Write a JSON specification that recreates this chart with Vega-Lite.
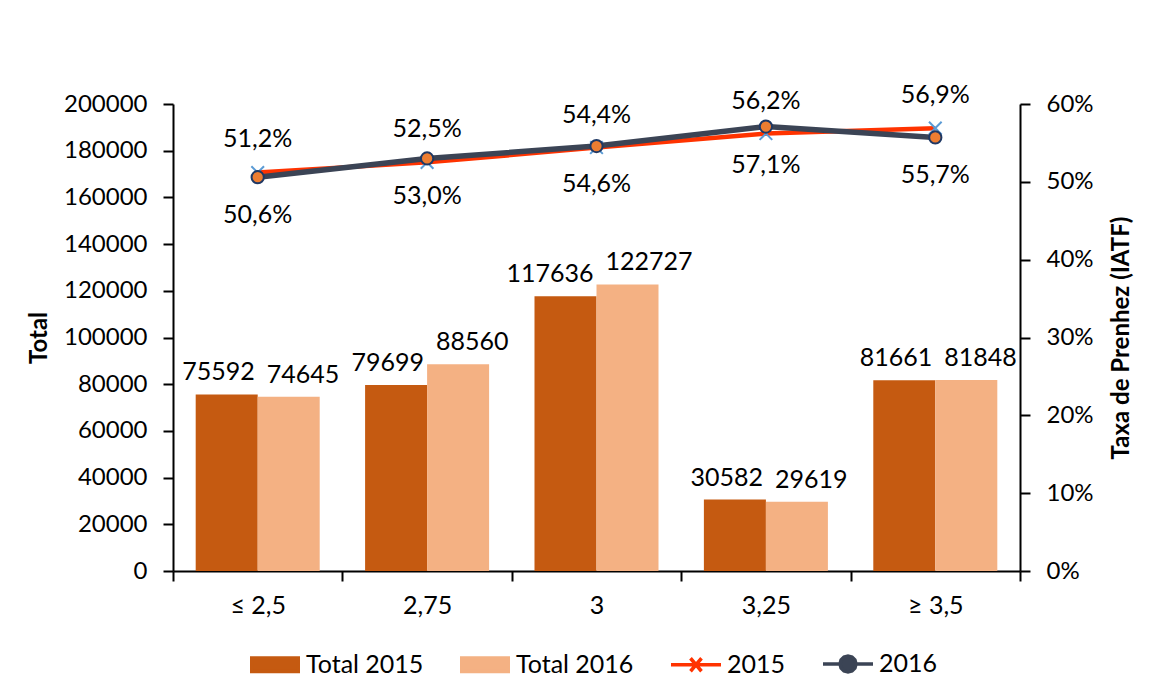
{
  "$schema": "https://vega.github.io/schema/vega-lite/v6.json",
  "width": 847,
  "height": 467,
  "autosize": {"type": "none"},
  "padding": {"left": 173, "top": 104, "right": 129, "bottom": 129},
  "background": "white",
  "datasets": {
    "totais": [
      {"faixa": "≤ 2,5", "serie": "Total 2015", "total": 75592},
      {"faixa": "≤ 2,5", "serie": "Total 2016", "total": 74645},
      {"faixa": "2,75", "serie": "Total 2015", "total": 79699},
      {"faixa": "2,75", "serie": "Total 2016", "total": 88560},
      {"faixa": "3", "serie": "Total 2015", "total": 117636},
      {"faixa": "3", "serie": "Total 2016", "total": 122727},
      {"faixa": "3,25", "serie": "Total 2015", "total": 30582},
      {"faixa": "3,25", "serie": "Total 2016", "total": 29619},
      {"faixa": "≥ 3,5", "serie": "Total 2015", "total": 81661},
      {"faixa": "≥ 3,5", "serie": "Total 2016", "total": 81848}
    ],
    "taxas": [
      {"faixa": "≤ 2,5", "serie": "2015", "taxa": 0.512},
      {"faixa": "2,75", "serie": "2015", "taxa": 0.525},
      {"faixa": "3", "serie": "2015", "taxa": 0.544},
      {"faixa": "3,25", "serie": "2015", "taxa": 0.562},
      {"faixa": "≥ 3,5", "serie": "2015", "taxa": 0.569},
      {"faixa": "≤ 2,5", "serie": "2016", "taxa": 0.506},
      {"faixa": "2,75", "serie": "2016", "taxa": 0.530},
      {"faixa": "3", "serie": "2016", "taxa": 0.546},
      {"faixa": "3,25", "serie": "2016", "taxa": 0.571},
      {"faixa": "≥ 3,5", "serie": "2016", "taxa": 0.557}
    ]
  },
  "encoding": {
    "x": {
      "field": "faixa",
      "type": "nominal",
      "sort": ["≤ 2,5", "2,75", "3", "3,25", "≥ 3,5"],
      "scale": {"paddingInner": 0, "paddingOuter": 0},
      "axis": {
        "title": null,
        "labelAngle": 0,
        "tickBand": "extent",
        "domainColor": "black",
        "domainWidth": 2,
        "tickColor": "black",
        "tickWidth": 2,
        "tickSize": 10,
        "labelFont": "Lato",
        "labelFontSize": 25,
        "labelColor": "black",
        "labelPadding": 12
      }
    }
  },
  "layer": [
    {
      "data": {"name": "totais"},
      "encoding": {
        "y": {
          "field": "total",
          "type": "quantitative",
          "scale": {"domain": [0, 200000], "nice": false},
          "axis": {
            "orient": "left",
            "title": "Total",
            "values": [0, 20000, 40000, 60000, 80000, 100000, 120000, 140000, 160000, 180000, 200000],
            "format": "d",
            "grid": false,
            "domainColor": "black",
            "domainWidth": 2,
            "tickColor": "black",
            "tickWidth": 2,
            "tickSize": 10,
            "labelFont": "Lato",
            "labelFontSize": 24,
            "labelColor": "black",
            "labelPadding": 16,
            "titleFont": "Lato",
            "titleFontSize": 24,
            "titleFontWeight": "bold",
            "titleColor": "black",
            "titlePadding": 12
          }
        }
      },
      "layer": [
        {
          "mark": {"type": "bar"},
          "encoding": {
            "xOffset": {"field": "serie", "type": "nominal", "scale": {"paddingInner": 0, "paddingOuter": 0.366}},
            "color": {
              "field": "serie",
              "type": "nominal",
              "scale": {"domain": ["Total 2015", "Total 2016", "2015", "2016"], "range": ["#C55A11", "#F4B183", "#FF3300", "#3B4455"]}
            }
          }
        },
        {
          "transform": [{"filter": "datum.serie == 'Total 2015'"}],
          "mark": {"type": "text", "dy": -14, "dx": -3, "align": "right", "font": "Lato", "fontSize": 25, "color": "black", "baseline": "alphabetic"},
          "encoding": {
            "text": {"field": "total", "type": "quantitative", "format": "d"}
          }
        },
        {
          "transform": [{"filter": "datum.serie == 'Total 2016'"}],
          "mark": {"type": "text", "dy": -14, "dx": 9, "align": "left", "font": "Lato", "fontSize": 25, "color": "black", "baseline": "alphabetic"},
          "encoding": {
            "text": {"field": "total", "type": "quantitative", "format": "d"}
          }
        }
      ]
    },
    {
      "data": {"name": "taxas"},
      "encoding": {
        "y": {
          "field": "taxa",
          "type": "quantitative",
          "scale": {"domain": [0, 0.6], "nice": false},
          "axis": {
            "orient": "right",
            "title": "Taxa de Prenhez (IATF)",
            "values": [0, 0.1, 0.2, 0.3, 0.4, 0.5, 0.6],
            "format": ".0%",
            "grid": false,
            "domainColor": "black",
            "domainWidth": 2,
            "tickColor": "black",
            "tickWidth": 2,
            "tickSize": 10,
            "labelFont": "Lato",
            "labelFontSize": 24,
            "labelColor": "black",
            "labelPadding": 16,
            "titleFont": "Lato",
            "titleFontSize": 24,
            "titleFontWeight": "bold",
            "titleColor": "black",
            "titleAngle": 270,
            "titlePadding": 40
          }
        }
      },
      "layer": [
        {
          "transform": [{"filter": "datum.serie == '2015'"}],
          "mark": {"type": "line", "strokeWidth": 4.5},
          "encoding": {
            "color": {"field": "serie", "type": "nominal", "scale": {"domain": ["Total 2015", "Total 2016", "2015", "2016"], "range": ["#C55A11", "#F4B183", "#FF3300", "#3B4455"]}}
          }
        },
        {
          "transform": [{"filter": "datum.serie == '2015'"}],
          "mark": {"type": "point", "shape": "M-1,-1L1,1M-1,1L1,-1", "filled": false, "stroke": "#5B9BD5", "strokeWidth": 2, "size": 160, "opacity": 1}
        },
        {
          "transform": [{"filter": "datum.serie == '2016'"}],
          "mark": {"type": "line", "strokeWidth": 5.5},
          "encoding": {
            "color": {
              "field": "serie",
              "type": "nominal",
              "scale": {"domain": ["Total 2015", "Total 2016", "2015", "2016"], "range": ["#C55A11", "#F4B183", "#FF3300", "#3B4455"]},
              "legend": {
                "orient": "none",
                "legendX": 75,
                "legendY": 533,
                "direction": "horizontal",
                "title": null,
                "labelFont": "Lato",
                "labelFontSize": 25,
                "labelColor": "black",
                "symbolSize": 2500,
                "columnPadding": 30,
                "labelOffset": 4,
                "encode": {
                  "symbols": {
                    "update": {
                      "shape": {"signal": "(datum.value == 'Total 2015' || datum.value == 'Total 2016') ? 'M-0.93,-0.27H0.93V0.27H-0.93Z' : (datum.value == '2016' ? 'M-1,0H-0.32M0.32,0H1M0.32,0L0.277,0.16L0.16,0.277L0,0.32L-0.16,0.277L-0.277,0.16L-0.32,0L-0.277,-0.16L-0.16,-0.277L0,-0.32L0.16,-0.277L0.277,-0.16Z' : 'M-1,0H1M-0.22,-0.26L0.22,0.26M-0.22,0.26L0.22,-0.26')"},
                      "fill": {"signal": "datum.value == 'Total 2015' ? '#C55A11' : (datum.value == 'Total 2016' ? '#F4B183' : (datum.value == '2016' ? '#ED7D31' : 'transparent'))"},
                      "stroke": {"signal": "datum.value == 'Total 2015' ? '#C55A11' : (datum.value == 'Total 2016' ? '#F4B183' : (datum.value == '2016' ? '#3B4455' : '#FF3300'))"},
                      "strokeWidth": {"value": 3.5},
                      "opacity": {"value": 1},
                      "fillOpacity": {"value": 1},
                      "strokeOpacity": {"value": 1}
                    }
                  }
                }
              }
            }
          }
        },
        {
          "transform": [{"filter": "datum.serie == '2016'"}],
          "mark": {"type": "point", "shape": "circle", "filled": true, "fill": "#ED7D31", "stroke": "#1F3864", "strokeWidth": 2, "size": 150, "opacity": 1}
        },
        {
          "transform": [{"filter": "datum.serie == '2015'"}],
          "mark": {"type": "text", "dy": -25, "font": "Lato", "fontSize": 25, "color": "black", "baseline": "alphabetic"},
          "encoding": {"text": {"field": "taxa", "type": "quantitative", "format": ".1%"}}
        },
        {
          "transform": [{"filter": "datum.serie == '2016'"}],
          "mark": {"type": "text", "dy": 46, "font": "Lato", "fontSize": 25, "color": "black", "baseline": "alphabetic"},
          "encoding": {"text": {"field": "taxa", "type": "quantitative", "format": ".1%"}}
        }
      ]
    }
  ],
  "resolve": {"scale": {"y": "independent"}},
  "config": {
    "font": "Lato",
    "view": {"stroke": null},
    "axis": {"grid": false},
    "locale": {
      "number": {"decimal": ",", "thousands": ".", "grouping": [3], "currency": ["", ""]}
    }
  }
}
